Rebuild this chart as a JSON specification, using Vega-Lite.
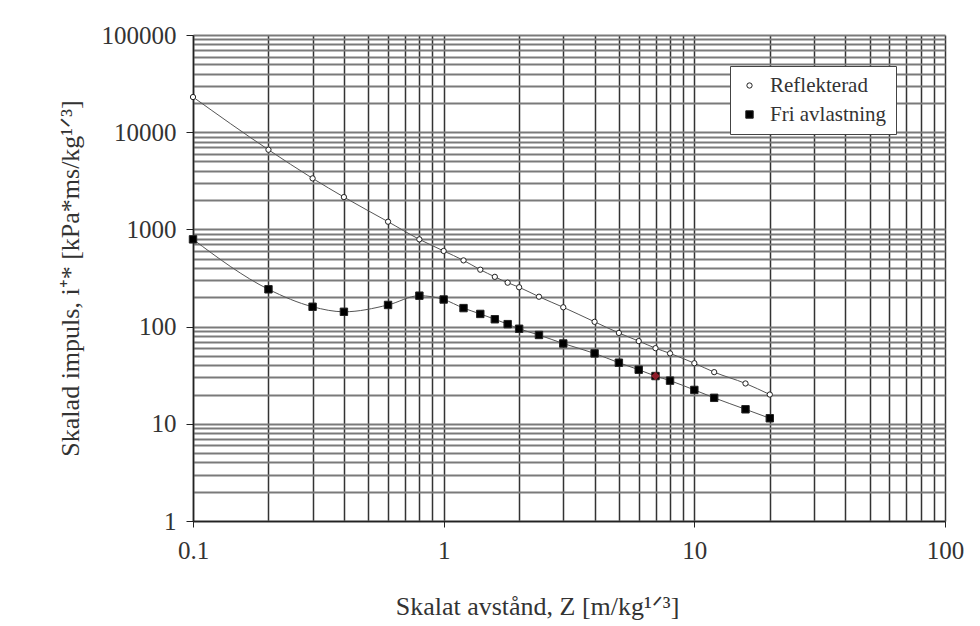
{
  "$schema": "https://vega.github.io/schema/vega-lite/v6.json",
  "width": 752,
  "height": 486,
  "autosize": "none",
  "padding": {"left": 193, "top": 35, "right": 35, "bottom": 105},
  "background": "white",
  "config": {
    "view": {"stroke": null},
    "font": "Liberation Serif"
  },
  "data": {
    "values": [
      {"z": 0.1, "i": 23000, "serie": "Reflekterad"},
      {"z": 0.2, "i": 6600, "serie": "Reflekterad"},
      {"z": 0.3, "i": 3350, "serie": "Reflekterad"},
      {"z": 0.4, "i": 2150, "serie": "Reflekterad"},
      {"z": 0.6, "i": 1200, "serie": "Reflekterad"},
      {"z": 0.8, "i": 790, "serie": "Reflekterad"},
      {"z": 1.0, "i": 600, "serie": "Reflekterad"},
      {"z": 1.2, "i": 480, "serie": "Reflekterad"},
      {"z": 1.4, "i": 385, "serie": "Reflekterad"},
      {"z": 1.6, "i": 325, "serie": "Reflekterad"},
      {"z": 1.8, "i": 283, "serie": "Reflekterad"},
      {"z": 2.0, "i": 254, "serie": "Reflekterad"},
      {"z": 2.4, "i": 203, "serie": "Reflekterad"},
      {"z": 3.0, "i": 158, "serie": "Reflekterad"},
      {"z": 4.0, "i": 112, "serie": "Reflekterad"},
      {"z": 5.0, "i": 86, "serie": "Reflekterad"},
      {"z": 6.0, "i": 71, "serie": "Reflekterad"},
      {"z": 7.0, "i": 60, "serie": "Reflekterad"},
      {"z": 8.0, "i": 53, "serie": "Reflekterad"},
      {"z": 10.0, "i": 42, "serie": "Reflekterad"},
      {"z": 12.0, "i": 34, "serie": "Reflekterad"},
      {"z": 16.0, "i": 26, "serie": "Reflekterad"},
      {"z": 20.0, "i": 20, "serie": "Reflekterad"},
      {"z": 0.1, "i": 790, "serie": "Fri avlastning"},
      {"z": 0.2, "i": 242, "serie": "Fri avlastning"},
      {"z": 0.3, "i": 160, "serie": "Fri avlastning"},
      {"z": 0.4, "i": 142, "serie": "Fri avlastning"},
      {"z": 0.6, "i": 167, "serie": "Fri avlastning"},
      {"z": 0.8, "i": 208, "serie": "Fri avlastning"},
      {"z": 1.0, "i": 190, "serie": "Fri avlastning"},
      {"z": 1.2, "i": 155, "serie": "Fri avlastning"},
      {"z": 1.4, "i": 135, "serie": "Fri avlastning"},
      {"z": 1.6, "i": 119, "serie": "Fri avlastning"},
      {"z": 1.8, "i": 106, "serie": "Fri avlastning"},
      {"z": 2.0, "i": 95, "serie": "Fri avlastning"},
      {"z": 2.4, "i": 82, "serie": "Fri avlastning"},
      {"z": 3.0, "i": 67, "serie": "Fri avlastning"},
      {"z": 4.0, "i": 53, "serie": "Fri avlastning"},
      {"z": 5.0, "i": 42.5, "serie": "Fri avlastning"},
      {"z": 6.0, "i": 36, "serie": "Fri avlastning"},
      {"z": 7.0, "i": 31, "serie": "Fri avlastning"},
      {"z": 8.0, "i": 27.8, "serie": "Fri avlastning"},
      {"z": 10.0, "i": 22.3, "serie": "Fri avlastning"},
      {"z": 12.0, "i": 18.5, "serie": "Fri avlastning"},
      {"z": 16.0, "i": 14.1, "serie": "Fri avlastning"},
      {"z": 20.0, "i": 11.4, "serie": "Fri avlastning"}
    ]
  },
  "encoding": {
    "x": {
      "field": "z",
      "type": "quantitative",
      "scale": {"type": "log", "domain": [0.1, 100], "nice": false},
      "axis": {
        "title": "Skalat avstånd, Z  [m/kg¹ᐟ³]",
        "titleFont": "Liberation Serif",
        "titleFontSize": 26,
        "titleFontWeight": "normal",
        "titleColor": "#333",
        "titleX": 344,
        "titleY": 93,
        "titleBaseline": "alphabetic",
        "values": [0.1,0.2,0.3,0.4,0.5,0.6,0.7,0.8,0.9,1,2,3,4,5,6,7,8,9,10,20,30,40,50,60,70,80,90,100],
        "labelExpr": "datum.value==0.1||datum.value==1||datum.value==10||datum.value==100 ? format(datum.value,'~g') : ''",
        "labelFont": "Liberation Serif",
        "labelFontSize": 25,
        "labelColor": "#333",
        "labelPadding": 11,
        "labelFlush": false,
        "labelOverlap": false,
        "tickSize": 6,
        "tickColor": "#222",
        "tickOpacity": {"condition": {"test": "datum.value==0.1||datum.value==1||datum.value==10||datum.value==100", "value": 1}, "value": 0},
        "domainColor": "#222",
        "domainWidth": 1.5,
        "grid": true,
        "gridColor": "#333",
        "gridWidth": 1.5,
        "gridOpacity": 1
      }
    },
    "y": {
      "field": "i",
      "type": "quantitative",
      "scale": {"type": "log", "domain": [1, 100000], "nice": false},
      "axis": {
        "title": "Skalad impuls, i⁺*  [kPa*ms/kg¹ᐟ³]",
        "titleFont": "Liberation Serif",
        "titleFontSize": 26,
        "titleFontWeight": "normal",
        "titleColor": "#333",
        "titleX": -123,
        "titleY": 243,
        "titleBaseline": "middle",
        "values": [1,2,3,4,5,6,7,8,9,10,20,30,40,50,60,70,80,90,100,200,300,400,500,600,700,800,900,1000,2000,3000,4000,5000,6000,7000,8000,9000,10000,20000,30000,40000,50000,60000,70000,80000,90000,100000],
        "labelExpr": "datum.value==1||datum.value==10||datum.value==100||datum.value==1000||datum.value==10000||datum.value==100000 ? format(datum.value,'d') : ''",
        "labelFont": "Liberation Serif",
        "labelFontSize": 25,
        "labelColor": "#333",
        "labelPadding": 10,
        "labelOverlap": false,
        "labelFlush": false,
        "tickSize": 7,
        "tickColor": "#222",
        "tickOpacity": {"condition": {"test": "datum.value==1||datum.value==10||datum.value==100||datum.value==1000||datum.value==10000||datum.value==100000", "value": 1}, "value": 0},
        "domainColor": "#222",
        "domainWidth": 1.5,
        "grid": true,
        "gridColor": "#7a7a7a",
        "gridWidth": 2,
        "gridOpacity": 1
      }
    }
  },
  "layer": [
    {
      "mark": {"type": "line", "interpolate": "monotone", "color": "#555", "strokeWidth": 1},
      "encoding": {"detail": {"field": "serie"}}
    },
    {
      "mark": {"type": "point", "filled": true, "stroke": "#222", "strokeWidth": 1, "opacity": 1},
      "encoding": {
        "shape": {
          "field": "serie",
          "type": "nominal",
          "scale": {"domain": ["Reflekterad", "Fri avlastning"], "range": ["circle", "square"]},
          "legend": {
            "title": null,
            "orient": "none",
            "legendX": 537,
            "legendY": 31,
            "padding": 9,
            "strokeColor": "#444",
            "fillColor": "white",
            "labelFont": "Liberation Serif",
            "labelFontSize": 21,
            "labelColor": "#333",
            "rowPadding": 7,
            "symbolStrokeWidth": 1,
            "symbolStrokeColor": "#222",
            "labelOffset": 10
          }
        },
        "color": {
          "field": "serie",
          "type": "nominal",
          "scale": {"domain": ["Reflekterad", "Fri avlastning"], "range": ["white", "black"]}
        },
        "size": {
          "field": "serie",
          "type": "nominal",
          "scale": {"domain": ["Reflekterad", "Fri avlastning"], "range": [28, 55]}
        }
      }
    },
    {
      "transform": [{"filter": "datum.serie=='Fri avlastning' && datum.z==7"}],
      "mark": {"type": "point", "shape": "diamond", "filled": true, "color": "#c8283a", "size": 75}
    }
  ]
}
